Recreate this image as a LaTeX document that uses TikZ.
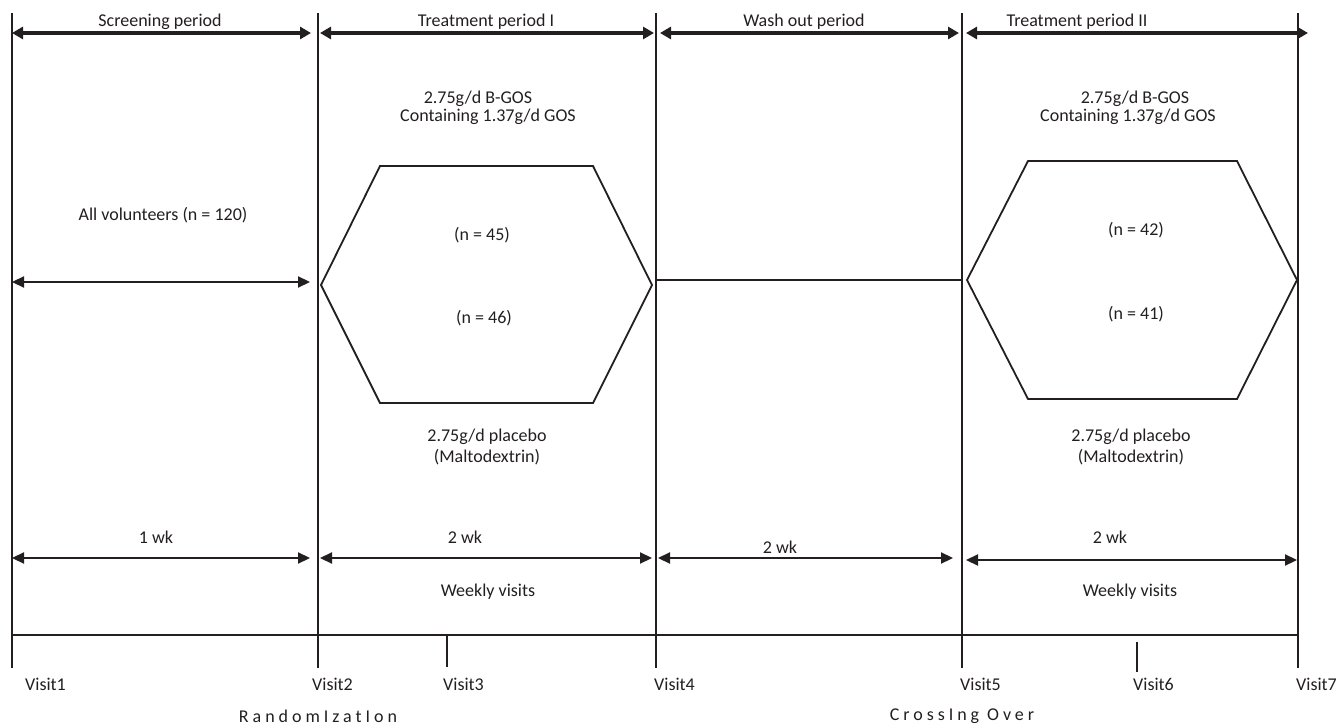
\documentclass[tikz,border=0pt]{standalone}
\usepackage{fontspec}
\setmainfont{Carlito}
\usetikzlibrary{arrows.meta}
\definecolor{ink}{RGB}{35,31,32}

\begin{document}
\begin{tikzpicture}[x=1pt,y=-1pt,
    lbl/.style={font={\fontsize{18}{21}\selectfont},text=ink,inner sep=0pt},
    visit/.style={lbl,anchor=west},
    spaced/.style={lbl,font={\fontsize{18}{21}\selectfont\addfontfeature{LetterSpace=22}}},
    rule/.style={draw=ink,line width=2pt},
    hexa/.style={draw=ink,line width=1.8pt,line join=miter},
    period/.style={draw=ink,line width=3.5pt,{Triangle[length=11pt,width=12pt]}-{Triangle[length=11pt,width=12pt]}},
    span/.style={draw=ink,line width=2.2pt,{Triangle[length=12pt,width=11pt]}-{Triangle[length=12pt,width=11pt]}}]
\useasboundingbox (0,0) rectangle (1339,727);

% visit lines
\foreach \n/\x in {1/12,2/318,4/656,5/962,7/1298}{
  \coordinate (top\n) at (\x,13);
  \coordinate (foot\n) at (\x,668);
  \draw[rule] (top\n) -- (foot\n);
}
\coordinate (top3) at (447,635); \coordinate (foot3) at (447,667);
\coordinate (top6) at (1137,642); \coordinate (foot6) at (1137,672);
\draw[rule] (top3) -- (foot3) (top6) -- (foot6);
\draw[rule] (top1 |- top3) -- (top7 |- top3);

% periods
\draw[period,shorten >=7pt] (top1 |- 0,33) -- (top2 |- 0,33);
\draw[period,shorten <=2pt,shorten >=2pt] (top2 |- 0,33) -- (top4 |- 0,33);
\draw[period,shorten <=4pt,shorten >=3pt] (top4 |- 0,33) -- (top5 |- 0,33);
\draw[period,shorten <=4pt,shorten >=-10pt] (top5 |- 0,33) -- (top7 |- 0,33);
\node[lbl] (screen) at (160,22) {Screening period};
\node[lbl] (treat1) at (486,22) {Treatment period I};
\node[lbl] (wash) at (804,22) {Wash out period};
\node[lbl] (treat2) at (1077,22) {Treatment period II};

% screening
\node[lbl] (all) at (163,215) {All volunteers (n = 120)};
\draw[span,shorten >=8pt] (top1 |- 0,282) -- (top2 |- 0,282);

% treatment period I
\node[lbl] (gos1) at (478,99) {2.75g/d B-GOS};
\node[lbl] (cont1) at (488,117) {Containing 1.37g/d GOS};
\draw[hexa] (321,285) -- (380,166) -- (593,166) -- (652,285) -- (593,403) -- (380,403) -- cycle;
\node[lbl] (n45) at (482,235) {(n = 45)};
\node[lbl] (n46) at (484,318) {(n = 46)};
\node[lbl] (plac1) at (487,437) {2.75g/d placebo};
\node[lbl] (malt1) at (487,457) {(Maltodextrin)};

% wash out
\draw[rule] (top4 |- 0,280) -- (top5 |- 0,280);

% treatment period II
\node[lbl] (gos2) at (1135,99) {2.75g/d B-GOS};
\node[lbl] (cont2) at (1128,117) {Containing 1.37g/d GOS};
\draw[hexa] (967,280) -- (1028,161) -- (1237,161) -- (1297,280) -- (1237,399) -- (1028,399) -- cycle;
\node[lbl] (n42) at (1136,230) {(n = 42)};
\node[lbl] (n41) at (1136,314) {(n = 41)};
\node[lbl] (plac2) at (1131,437) {2.75g/d placebo};
\node[lbl] (malt2) at (1131,457) {(Maltodextrin)};

% durations
\node[lbl] (wk1) at (156,537) {1 wk};
\node[lbl] (wk2) at (465,537) {2 wk};
\node[lbl] (wk3) at (780,547) {2 wk};
\node[lbl] (wk4) at (1110,537) {2 wk};
\draw[span,shorten >=8pt] (top1 |- 0,558) -- (top2 |- 0,558);
\draw[span,shorten <=2pt,shorten >=4pt] (top2 |- 0,558) -- (top4 |- 0,558);
\draw[span,shorten <=2pt,shorten >=9pt] (top4 |- 0,558) -- (top5 |- 0,558);
\draw[span,shorten <=4pt,shorten >=1pt] (top5 |- 0,560) -- (top7 |- 0,560);
\node[lbl] (week1) at (488,592) {Weekly visits};
\node[lbl] (week2) at (1130,592) {Weekly visits};

% visits
\node[visit] (v1) at (25,684) {Visit1};
\node[visit] (v2) at (312,684) {Visit2};
\node[visit] (v3) at (443,684) {Visit3};
\node[visit] (v4) at (654,684) {Visit4};
\node[visit] (v5) at (960,684) {Visit5};
\node[visit] (v6) at (1133,684) {Visit6};
\node[visit] (v7) at (1296,684) {Visit7};
\node[spaced] (rand) at (318,716) {RandomIzatIon};
\node[spaced] (cross) at (962,716) {CrossIng Over};
\end{tikzpicture}
\end{document}
